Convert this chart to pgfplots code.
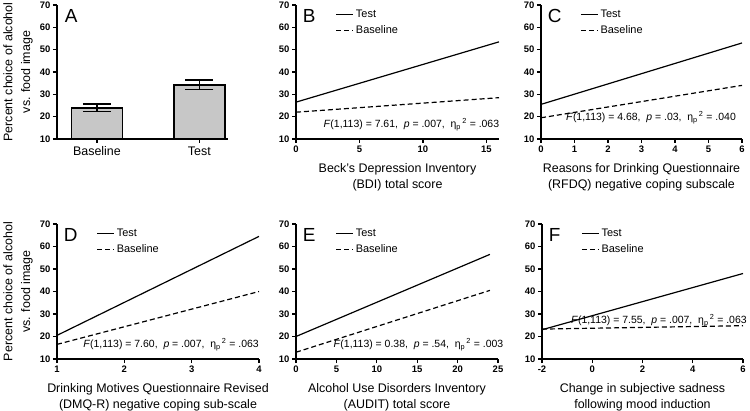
\documentclass[border=0pt]{standalone}
\usepackage{fontspec}
\setmainfont{Liberation Sans}
\usepackage{pgfplots}
\pgfplotsset{compat=1.18}

\pgfplotsset{
  prism/.style={
    scale only axis,
    axis x line=bottom, axis y line=left,
    axis line style={-, line width=1.5bp, black},
    tick style={line width=1.3bp, black},
    tick align=outside,
    major tick length=4bp,
    ymin=10, ymax=70, ytick={10,20,...,70},
    /pgf/number format/assume math mode=true,
    ticklabel style={font=\bfseries\fontsize{9.5}{10}\selectfont},
    yticklabel style={xshift=1bp},
    xticklabel style={yshift=1bp},
    xlabel style={font=\fontsize{12.5}{16.5}\selectfont, align=center, at={(axis description cs:0.5,0)}, anchor=north, yshift=-21bp},
    legend style={draw=none, fill=none, at={(axis description cs:0.19,0.985)}, anchor=north west,
      font=\fontsize{11}{12}\selectfont, inner sep=1bp, row sep=2.5bp},
    legend cell align=left,
    clip mode=individual,
  },
  row1/.style={height=134bp},
  row2/.style={height=135bp},
  solidline/.style={black, line width=1.2bp},
  dashline/.style={black, line width=1.2bp, dash pattern=on 5bp off 3bp},
  ylab/.style={ylabel={Percent choice of alcohol\\vs. food image},
    ylabel style={font=\fontsize{12.5}{18}\selectfont, align=center, at={(axis description cs:#1,0.5)}, anchor=center}},
}
\newcommand{\PanelLetter}[1]{\node[anchor=base west, inner sep=0pt, font=\fontsize{19}{19}\selectfont] at (rel axis cs:0.033,0.868) {#1};}
\newcommand{\StatLine}[5]{\node[anchor=west, inner sep=0pt, font=\fontsize{10.5}{11}\selectfont] at (rel axis cs:#1,#2) {\textit{F}(1,113) = #3,\ \ \textit{p} = #4,\ \ η\textsubscript{p}\textsuperscript{\,2} = #5};}

\begin{document}
\begin{tikzpicture}
\path[use as bounding box] (0bp,0bp) rectangle (750bp,411bp);

% Panel A
\begin{axis}[prism, row1, ylab=-0.228, at={(57bp,272bp)}, anchor=south west, width=171bp,
  xmin=-0.39, xmax=1.28, xtick={0,1}, xticklabels={Baseline,Test},
  xticklabel style={font=\fontsize{12.5}{14}\selectfont, yshift=-1bp}]
\addplot[ybar, bar width=0.5, fill=black!22, draw=black, line width=1.6bp,
  error bars/.cd, y dir=both, y explicit,
  error bar style={line width=1.6bp, black},
  error mark options={rotate=90, mark size=14bp, line width=1.6bp, black}]
  coordinates {(0,24.0) +- (0,1.6) (1,34.3) +- (0,2.2)};
\node[anchor=base west, inner sep=0pt, font=\fontsize{19}{19}\selectfont] at (rel axis cs:0.045,0.868) {A};
\end{axis}

% Panel B
\begin{axis}[prism, row1, at={(296bp,272bp)}, anchor=south west, width=203bp,
  xmin=0, xmax=16, xtick={0,5,10,15},
  xlabel={Beck's Depression Inventory\\(BDI) total score}]
\addplot[solidline] coordinates {(0,26.5) (16,53.5)};
\addlegendentry{Test}
\addplot[dashline] coordinates {(0,22.0) (16,28.5)};
\addlegendentry{Baseline}
\PanelLetter{B}
\StatLine{0.135}{0.105}{7.61}{.007}{.063}
\end{axis}

% Panel C
\begin{axis}[prism, row1, at={(541bp,272bp)}, anchor=south west, width=201bp,
  xmin=0, xmax=6, xtick={0,1,2,3,4,5,6},
  xlabel={Reasons for Drinking Questionnaire\\(RFDQ) negative coping subscale}]
\addplot[solidline] coordinates {(0,25.5) (6,53.0)};
\addlegendentry{Test}
\addplot[dashline] coordinates {(0,19.5) (6,34.0)};
\addlegendentry{Baseline}
\PanelLetter{C}
\StatLine{0.124}{0.158}{4.68}{.03}{.040}
\end{axis}

% Panel D
\begin{axis}[prism, row2, ylab=-0.193, at={(57bp,52bp)}, anchor=south west, width=202bp,
  xmin=1, xmax=4, xtick={1,2,3,4},
  xlabel={Drinking Motives Questionnaire Revised\\(DMQ-R) negative coping sub-scale}]
\addplot[solidline] coordinates {(1,20.5) (4,64.5)};
\addlegendentry{Test}
\addplot[dashline] coordinates {(1,16.5) (4,40.0)};
\addlegendentry{Baseline}
\PanelLetter{D}
\StatLine{0.129}{0.104}{7.60}{.007}{.063}
\end{axis}

% Panel E
\begin{axis}[prism, row2, at={(296bp,52bp)}, anchor=south west, width=202bp,
  xmin=0, xmax=25, xtick={0,5,10,15,20,25},
  xlabel={Alcohol Use Disorders Inventory\\(AUDIT) total score}]
\addplot[solidline] coordinates {(0,20.0) (24,56.5)};
\addlegendentry{Test}
\addplot[dashline] coordinates {(0,13.0) (24,40.5)};
\addlegendentry{Baseline}
\PanelLetter{E}
\StatLine{0.185}{0.104}{0.38}{.54}{.003}
\end{axis}

% Panel F
\begin{axis}[prism, row2, at={(542bp,52bp)}, anchor=south west, width=201bp,
  xmin=-2, xmax=6, xtick={-2,0,2,4,6},
  xlabel={Change in subjective sadness\\following mood induction}]
\addplot[solidline] coordinates {(-2,23.0) (6,48.0)};
\addlegendentry{Test}
\addplot[dashline] coordinates {(-2,23.3) (6,24.8)};
\addlegendentry{Baseline}
\PanelLetter{F}
\StatLine{0.144}{0.285}{7.55}{.007}{.063}
\end{axis}
\end{tikzpicture}
\end{document}
